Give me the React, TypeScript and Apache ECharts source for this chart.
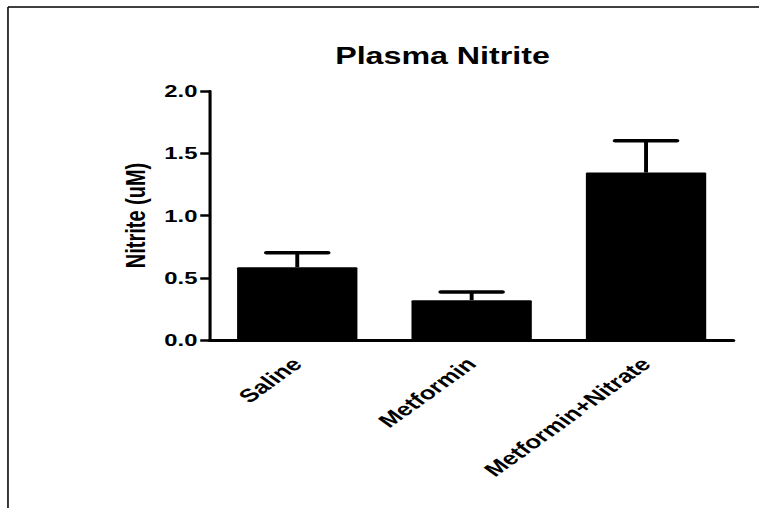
import React, { useEffect, useRef } from "react";
import * as echarts from "echarts";

const categories = ["Saline", "Metformin", "Metformin+Nitrate"];
const means = [0.585, 0.32, 1.345];
const errors = [0.116, 0.065, 0.255];
const yTicks = { min: 0, max: 2, interval: 0.5 };

const STRETCH = 759 / 542;
const FONT = "'Liberation Sans', Arial, sans-serif";

export default function App() {
  const ref = useRef<HTMLDivElement>(null);
  useEffect(() => {
    if (!ref.current) return;
    const chart = echarts.init(ref.current, undefined, { renderer: "svg" });
    chart.setOption({
      animation: false,
      backgroundColor: "#ffffff",
      title: {
        text: "Plasma Nitrite",
        left: 311,
        top: 40,
        textAlign: "center",
        textStyle: { fontFamily: FONT, fontWeight: "bold", fontSize: 23, color: "#000" },
      },
      graphic: [
        { type: "line", shape: { x1: 5.7, y1: 7, x2: 542, y2: 7 }, style: { stroke: "#000", lineWidth: 1.5 } },
        { type: "line", shape: { x1: 5.7, y1: 7, x2: 5.7, y2: 508 }, style: { stroke: "#000", lineWidth: 1.1 } },
      ],
      grid: { left: 150, right: 18.4, top: 91, bottom: 168, containLabel: false },
      xAxis: {
        type: "category",
        data: categories,
        axisLine: { lineStyle: { color: "#000", width: 3 } },
        axisTick: { alignWithLabel: true, length: 8, lineStyle: { color: "#000", width: 2 } },
        axisLabel: {
          rotate: 45,
          interval: 0,
          margin: 21,
          fontFamily: FONT,
          fontWeight: "bold",
          fontSize: 18.5,
          color: "#000",
        },
      },
      yAxis: {
        type: "value",
        min: yTicks.min,
        max: yTicks.max,
        interval: yTicks.interval,
        name: "Nitrite (uM)",
        nameLocation: "middle",
        nameRotate: 90,
        nameGap: 43,
        nameTextStyle: { fontFamily: FONT, fontWeight: "bold", fontSize: 20, color: "#000" },
        splitLine: { show: false },
        axisLine: { show: true, lineStyle: { color: "#000", width: 2.2 } },
        axisTick: { show: true, length: 7, lineStyle: { color: "#000", width: 2.5 } },
        axisLabel: {
          margin: 9,
          fontFamily: FONT,
          fontWeight: "bold",
          fontSize: 17,
          color: "#000",
          formatter: (v: number) => v.toFixed(1),
        },
      },
      series: [
        {
          type: "bar",
          data: means,
          barWidth: "69%",
          itemStyle: { color: "#000", borderRadius: 1 },
          z: 2,
        },
        {
          type: "custom",
          z: 3,
          data: means.map((m, i) => [i, m, m + errors[i]]),
          renderItem: (params: any, api: any) => {
            const i = api.value(0);
            const base = api.coord([i, api.value(1)]);
            const top = api.coord([i, api.value(2)]);
            const band = api.size([1, 0])[0];
            const half = band * 0.177;
            return {
              type: "group",
              children: [
                {
                  type: "line",
                  shape: { x1: top[0], y1: base[1], x2: top[0], y2: top[1] },
                  style: { stroke: "#000", lineWidth: 2.8 },
                },
                {
                  type: "line",
                  shape: { x1: top[0] - half, y1: top[1], x2: top[0] + half, y2: top[1] },
                  style: { stroke: "#000", lineWidth: 3.5, lineCap: "round" },
                },
              ],
            };
          },
        },
      ],
    });
    return () => chart.dispose();
  }, []);
  return (
    <div style={{ position: "fixed", left: 0, top: 0, width: 759, height: 508, overflow: "hidden", background: "#fff" }}>
      <div
        ref={ref}
        style={{
          width: 542,
          height: 508,
          transform: `scaleX(${STRETCH})`,
          transformOrigin: "0 0",
        }}
      />
    </div>
  );
}
